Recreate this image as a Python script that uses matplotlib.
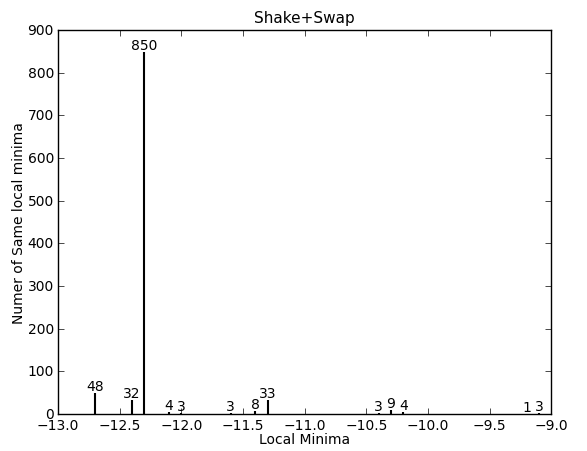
import matplotlib
matplotlib.use("Agg")
import matplotlib.pyplot as plt

# local minima values and how often each was reached
minima = [-12.7, -12.4, -12.3, -12.1, -12.0, -11.6, -11.4, -11.3, -10.4, -10.3, -10.2, -9.2, -9.1]
counts = [48, 32, 850, 4, 3, 3, 8, 33, 3, 9, 4, 1, 3]

plt.style.use("classic")
plt.rcParams["font.size"] = 10

fig = plt.figure(figsize=(5.87, 4.52), dpi=100)
ax = fig.add_axes([0.099, 0.082, 0.84, 0.849])

ax.vlines(minima, 0, counts, colors="black", linewidth=1.5)
for x, c in zip(minima, counts):
    ax.text(x, c, str(c), ha="center", va="bottom", fontsize=10)

ax.set_xlim(-13, -9)
ax.set_ylim(0, 900)
ax.tick_params(pad=3)
ax.set_title("Shake+Swap", fontsize=11, pad=6)
ax.set_xlabel("Local Minima", labelpad=0)
ax.set_ylabel("Numer of Same local minima", labelpad=1)

fig.savefig("out.png", dpi=100)
